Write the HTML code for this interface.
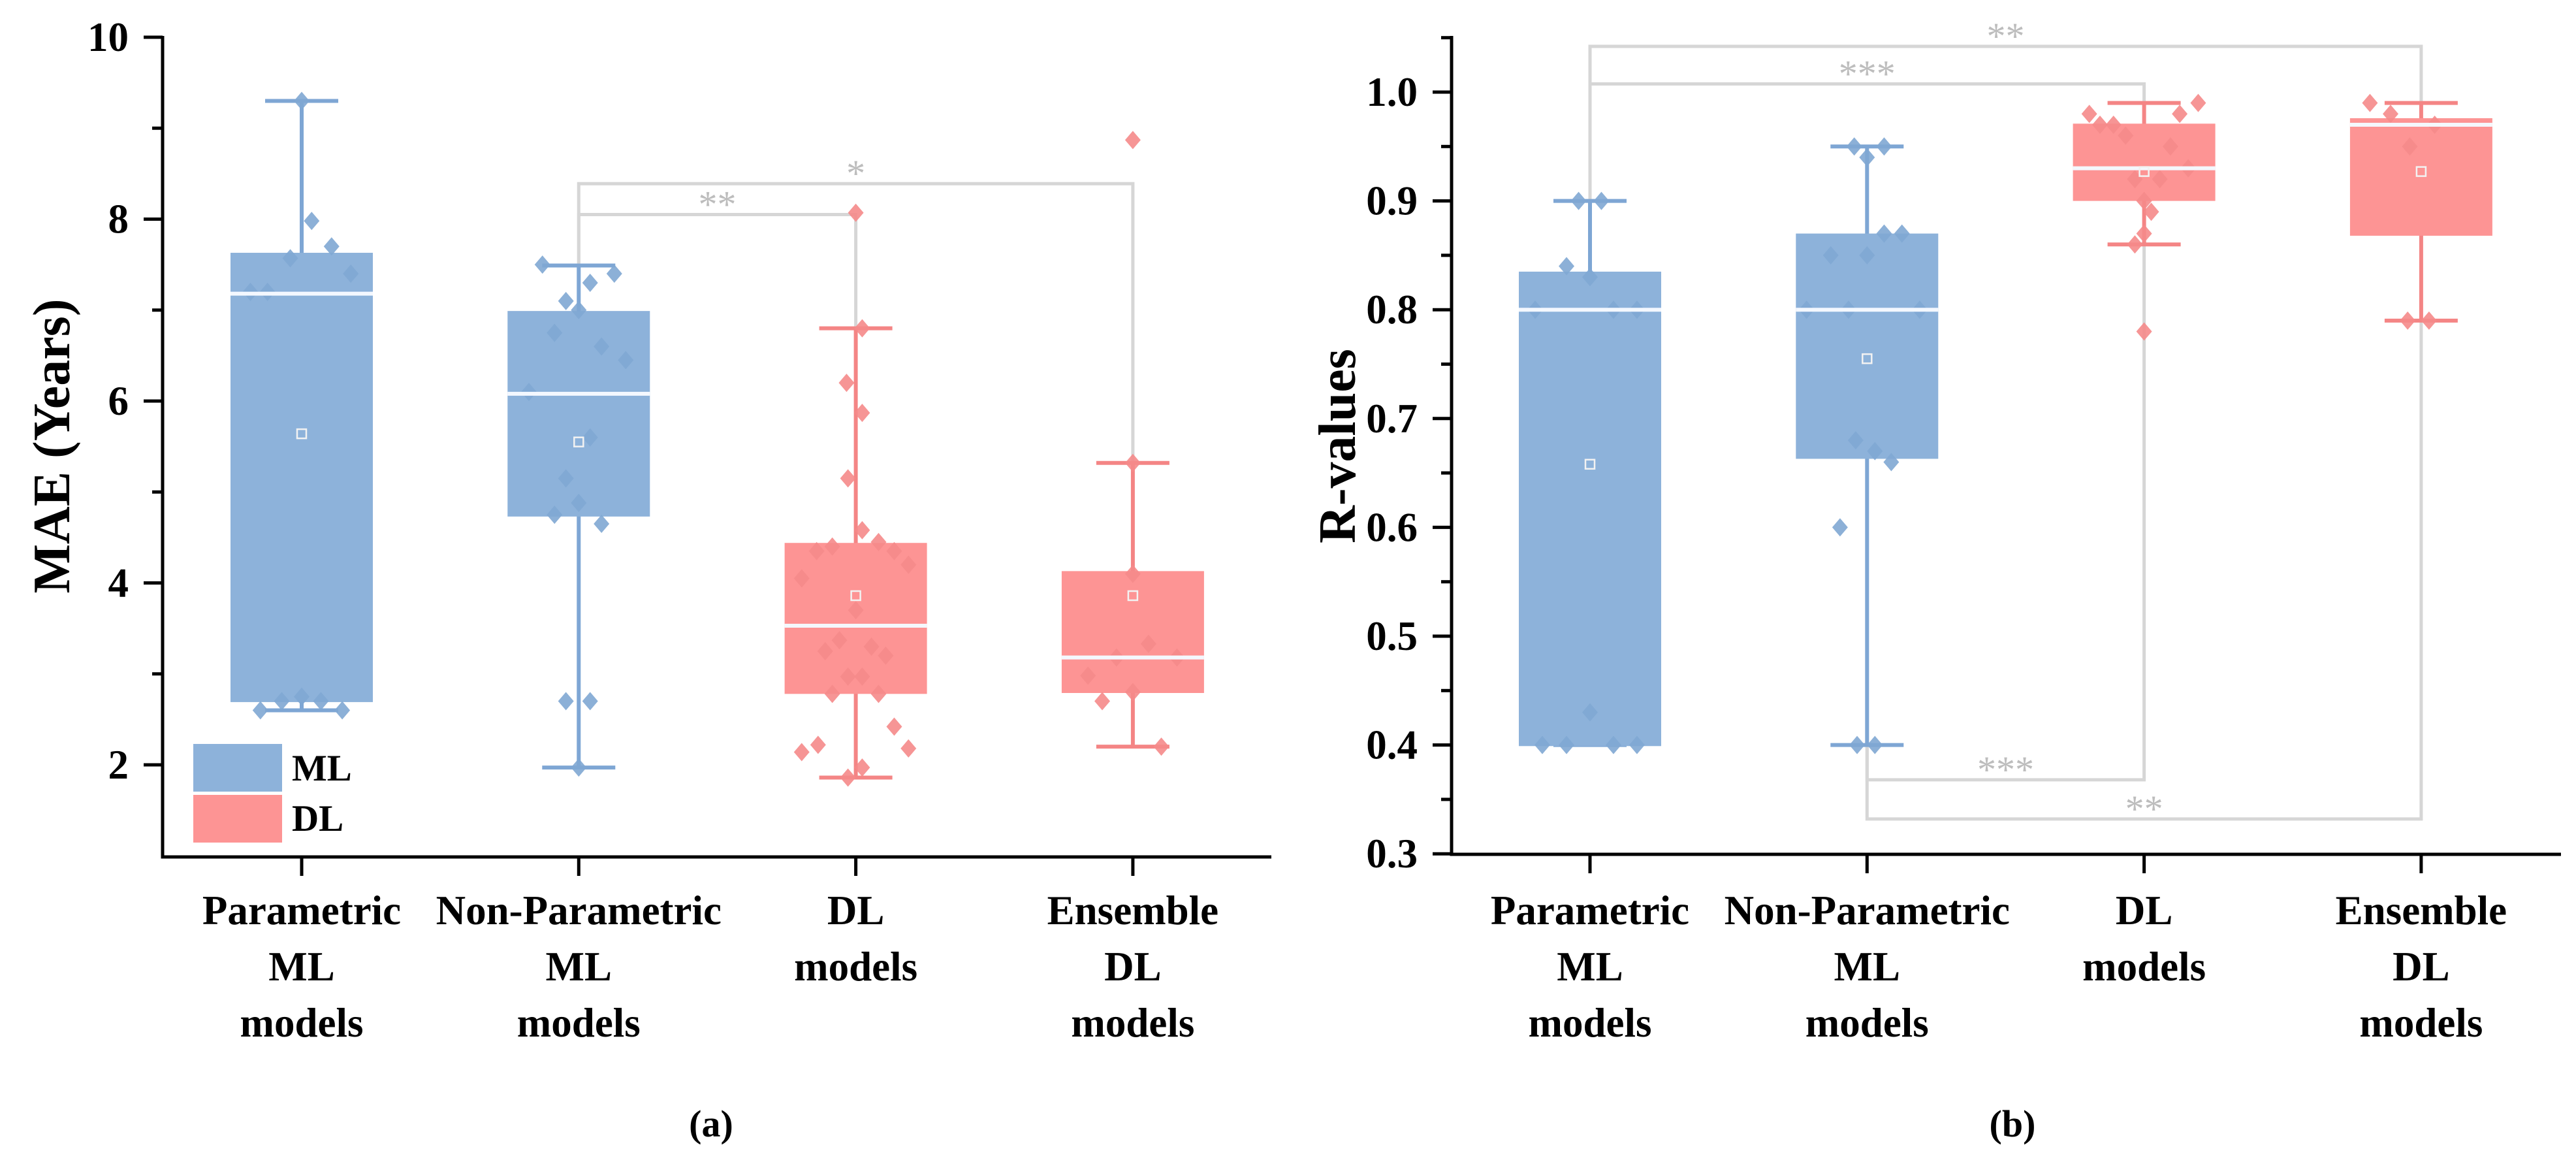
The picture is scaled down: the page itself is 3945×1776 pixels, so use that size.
<!DOCTYPE html>
<html><head><meta charset="utf-8"><style>
html,body{margin:0;padding:0;background:#fff;}
svg{display:block;font-family:"Liberation Serif",serif;}
</style></head><body>
<svg id="chart" width="3945" height="1776" viewBox="0 0 3945 1776" xmlns="http://www.w3.org/2000/svg"></svg>
<script>
const categories = [["Parametric","ML","models"],["Non-Parametric","ML","models"],["DL","models"],["Ensemble","DL","models"]];
const groupType = ["ML","ML","DL","DL"];
// Panel A (MAE): [whiskerLow, q1, median, q3, whiskerHigh, mean]
const maeStats = [[2.6,2.69,7.18,7.63,9.3,5.64],[1.97,4.73,6.08,6.99,7.49,5.55],[1.86,2.78,3.53,4.44,6.8,3.86],[2.2,2.79,3.18,4.13,5.32,3.86]];
const maePoints = [
 [9.3,7.98,7.7,7.57,7.4,7.2,7.2,2.6,2.7,2.75,2.7,2.6],
 [7.5,7.3,7.4,7.1,7.0,6.75,6.6,6.45,6.1,5.6,5.15,4.88,4.75,4.65,2.7,2.7,1.97],
 [8.07,6.8,6.2,5.87,5.15,4.58,4.45,4.4,4.35,4.35,4.2,4.05,3.7,3.37,3.3,3.25,3.2,2.97,2.97,2.78,2.78,2.42,2.22,2.18,2.14,1.97,1.86],
 [8.87,5.32,4.1,3.33,3.18,3.18,2.98,2.8,2.7,2.2]];
const maeOffsets = [
 [0,0.14,0.42,-0.16,0.69,-0.72,-0.48,-0.58,-0.28,0,0.27,0.57],
 [-0.51,0.16,0.5,-0.18,0,-0.34,0.32,0.66,-0.7,0.16,-0.18,0,-0.34,0.32,-0.18,0.16,0],
 [0,0.09,-0.13,0.09,-0.11,0.09,0.32,-0.33,-0.55,0.54,0.74,-0.76,0,-0.23,0.22,-0.43,0.42,-0.11,0.09,-0.33,0.32,0.54,-0.53,0.74,-0.76,0.09,-0.11],
 [0,0,0,0.22,-0.23,0.62,-0.63,0,-0.43,0.4]];
const maeTicks = ["2","4","6","8","10"];
const maeTickVals = [2,4,6,8,10];
const maeSig = [{a:1,b:2,y:8.05,label:"**"},{a:1,b:3,y:8.39,label:"*"}];
// Panel B (R-values)
const rStats = [[0.40,0.399,0.80,0.835,0.90,0.658],[0.40,0.663,0.80,0.87,0.95,0.755],[0.86,0.90,0.93,0.971,0.99,0.927],[0.79,0.868,0.97,0.976,0.99,0.927]];
const rPoints = [
 [0.9,0.9,0.84,0.83,0.8,0.8,0.8,0.43,0.4,0.4,0.4,0.4],
 [0.95,0.95,0.94,0.87,0.87,0.85,0.85,0.8,0.8,0.8,0.68,0.67,0.66,0.6,0.4,0.4],
 [0.99,0.98,0.98,0.97,0.97,0.96,0.95,0.93,0.92,0.92,0.9,0.89,0.87,0.86,0.78],
 [0.99,0.98,0.95,0.97,0.79,0.79]];
const rOffsets = [
 [-0.16,0.16,-0.33,0,-0.77,0.33,0.66,0,-0.67,-0.33,0.33,0.66],
 [-0.18,0.24,0,0.24,0.49,-0.51,0,-0.85,-0.26,0.74,-0.16,0.11,0.34,-0.38,-0.14,0.11],
 [0.76,-0.77,0.5,-0.62,-0.43,-0.26,0.37,0.62,-0.13,0.22,0,0.1,0,-0.13,0],
 [-0.72,-0.43,-0.16,0.19,-0.19,0.11]];
const rTicks = ["0.3","0.4","0.5","0.6","0.7","0.8","0.9","1.0"];
const rTickVals = [0.3,0.4,0.5,0.6,0.7,0.8,0.9,1.0];
const rSig = [{a:0,b:3,y:1.042,label:"**",top:true},{a:0,b:2,y:1.0075,label:"***",top:true},{a:1,b:2,y:0.368,label:"***",top:false},{a:1,b:3,y:0.332,label:"**",top:false}];

const NS="http://www.w3.org/2000/svg";
const svg=document.getElementById('chart');
function mk(tag,attrs,parent){const e=document.createElementNS(NS,tag);for(const k in attrs)e.setAttribute(k,attrs[k]);(parent||svg).appendChild(e);return e;}
const COL={ML:{fill:"#8db2da",line:"#7ea6d4",pt:"#7fa7d3"},DL:{fill:"#fd9494",line:"#f48585",pt:"#f58989"}};

function panel(opt){
  const g=mk('g',{});
  
  
  const y=v=>opt.yTop+(opt.vTop-v)*opt.pxPerUnit;
  const x=i=>opt.x0+i*opt.dx;
  const HW=109, CAP=56;
  opt.sig.forEach((s,k)=>{
    const by=y(s.y);
    const sa=opt.stats[s.a], sb=opt.stats[s.b];
    const ea = s.top===false? y(sa[0]) : y(sa[4]);
    const eb = s.top===false? y(sb[0]) : y(sb[4]);
    const p=mk('path',{d:`M${x(s.a)},${ea} L${x(s.a)},${by} L${x(s.b)},${by} L${x(s.b)},${eb}`,fill:'none',stroke:'#d6d6d6','stroke-width':5},g);
    
    
    const t=mk('text',{x:(x(s.a)+x(s.b))/2,y:by+4,'text-anchor':'middle','font-size':58,fill:'#bdbdbd'},g);
    
    
    t.textContent=s.label;
  });
  opt.stats.forEach((st,i)=>{
    const c=COL[groupType[i]], cx=x(i);
    const bg=mk('g',{},g);
    
    
    mk('line',{x1:cx,x2:cx,y1:y(st[4]),y2:y(st[0]),stroke:c.line,'stroke-width':6},bg);
    mk('line',{x1:cx-CAP,x2:cx+CAP,y1:y(st[4]),y2:y(st[4]),stroke:c.line,'stroke-width':6},bg);
    mk('line',{x1:cx-CAP,x2:cx+CAP,y1:y(st[0]),y2:y(st[0]),stroke:c.line,'stroke-width':6},bg);
    mk('rect',{x:cx-HW,y:y(st[3]),width:2*HW,height:y(st[1])-y(st[3]),fill:c.fill},bg);
    opt.points[i].forEach((v,j)=>{
      const px=cx+opt.offsets[i][j]*HW, py=y(v);
      const d=mk('path',{d:`M${px},${py-14} L${px+12},${py} L${px},${py+14} L${px-12},${py} Z`,fill:c.pt,opacity:0.9},bg);
      
      
    });
    mk('line',{x1:cx-HW,x2:cx+HW,y1:y(st[2]),y2:y(st[2]),stroke:'#f4f8ff','stroke-width':6},bg);
    mk('rect',{x:cx-7,y:y(st[5])-7,width:14,height:14,fill:'none',stroke:'#f2f2f2','stroke-width':2.5},bg);
  });
  const ax=mk('g',{},g);
  
  
  mk('line',{x1:opt.axL,x2:opt.axL,y1:opt.axTop,y2:opt.axBot+2.5,stroke:'#000','stroke-width':5},ax);
  mk('line',{x1:opt.axL-2.5,x2:opt.axR,y1:opt.axBot,y2:opt.axBot,stroke:'#000','stroke-width':5},ax);
  opt.tickVals.forEach((v,i)=>{
    mk('line',{x1:opt.axL-29,x2:opt.axL,y1:y(v),y2:y(v),stroke:'#000','stroke-width':5},ax);
    const t=mk('text',{x:opt.axL-52,y:y(v)+21,'text-anchor':'end','font-size':63,'font-weight':'bold'},ax);
    
    
    t.textContent=opt.ticks[i];
  });
  opt.minor.forEach(v=>mk('line',{x1:opt.axL-16,x2:opt.axL,y1:y(v),y2:y(v),stroke:'#000','stroke-width':5},ax));
  categories.forEach((lines,i)=>{
    mk('line',{x1:x(i),x2:x(i),y1:opt.axBot,y2:opt.axBot+29,stroke:'#000','stroke-width':5},ax);
    const t=mk('text',{x:x(i),'text-anchor':'middle','font-size':63,'font-weight':'bold'},ax);
    
    
    lines.forEach((l,k)=>{const ts=mk('tspan',{x:x(i),y:1415+k*86},t);ts.textContent=l;});
  });
  const yt=mk('text',{x:0,y:0,'text-anchor':'middle','font-size':opt.titleSize,'font-weight':'bold',transform:`translate(${opt.titleX},${opt.titleY}) rotate(-90)`},g);
  
  
  yt.textContent=opt.title;
  const pl=mk('text',{x:opt.labelX,y:1740,'text-anchor':'middle','font-size':58,'font-weight':'bold'},g);
  
  
  pl.textContent=opt.label;
}

panel({name:'panel-a-mae',x0:462,dx:424.3,yTop:57,vTop:10,pxPerUnit:139.25,axL:249,axR:1947,axTop:55,axBot:1312,
 stats:maeStats,points:maePoints,offsets:maeOffsets,sig:maeSig,ticks:maeTicks,tickVals:maeTickVals,minor:[3,5,7,9],
 title:'MAE (Years)',titleX:106,titleY:683,titleSize:80,label:'(a)',labelX:1089});
panel({name:'panel-b-r-values',x0:2435,dx:424.3,yTop:141,vTop:1.0,pxPerUnit:1666,axL:2223,axR:3922,axTop:55,axBot:1308,
 stats:rStats,points:rPoints,offsets:rOffsets,sig:rSig,ticks:rTicks,tickVals:rTickVals,minor:[0.35,0.45,0.55,0.65,0.75,0.85,0.95,1.05],
 title:'R-values',titleX:2075,titleY:683,titleSize:80,label:'(b)',labelX:3082});

const lg=mk('g',{});


const l1=mk('rect',{x:296,y:1139,width:136,height:73,fill:COL.ML.fill},lg);


const l2=mk('rect',{x:296,y:1217,width:136,height:73,fill:COL.DL.fill},lg);


const t1=mk('text',{x:447,y:1195,'font-size':57,'font-weight':'bold'},lg);


t1.textContent='ML';
const t2=mk('text',{x:447,y:1272,'font-size':57,'font-weight':'bold'},lg);


t2.textContent='DL';
</script>
</body></html>
